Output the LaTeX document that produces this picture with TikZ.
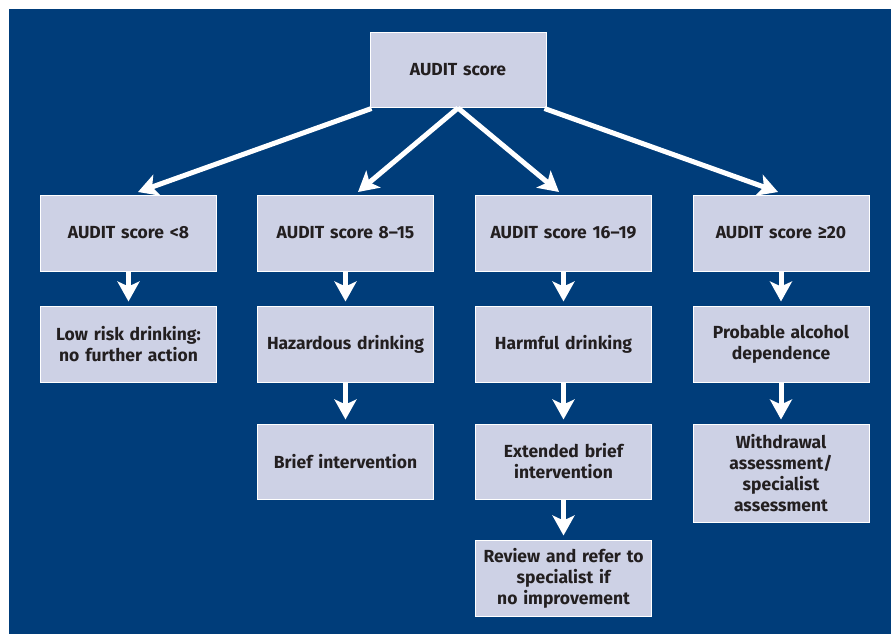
\documentclass[tikz,border=0pt]{standalone}
\usepackage{fontspec}
\setmainfont{Fira Sans}
\usetikzlibrary{arrows.meta}
\definecolor{bgblue}{RGB}{0,61,122}
\definecolor{boxfill}{RGB}{205,209,229}
\definecolor{txt}{RGB}{35,31,32}
\tikzset{
  box/.style={draw=white, line width=1pt, fill=boxfill, text=txt, font=\bfseries\fontsize{17.5}{21}\selectfont,
    minimum width=175pt, minimum height=76pt, align=center, inner sep=2pt, text width=172pt},
  arr/.style={draw=white, line width=5pt, -{Stealth[length=20pt, width=22pt, inset=5pt]}},
  varr/.style={arr, shorten >=4pt}
}
\begin{document}
\begin{tikzpicture}[x=1pt, y=-1pt]
\useasboundingbox (0,0) rectangle (891,634);
\fill[bgblue] (9,9) rectangle (891,634);
\node[box, minimum width=174pt, minimum height=74pt] (top) at (458,70) {AUDIT score};
\node[box] (a1) at (128.5,233) {AUDIT score <8};
\node[box] (b1) at (345.5,233) {AUDIT score 8–15};
\node[box] (c1) at (563.5,233) {AUDIT score 16–19};
\node[box] (d1) at (781,233) {AUDIT score ≥20};
\node[box] (a2) at (128.5,344) {Low risk drinking:\\no further action};
\node[box] (b2) at (345.5,344) {Hazardous drinking};
\node[box] (c2) at (563.5,344) {Harmful drinking};
\node[box] (d2) at (781,344) {Probable alcohol\\dependence};
\node[box, minimum height=75pt] (b3) at (345.5,461.5) {Brief intervention};
\node[box, minimum height=75pt] (c3) at (563.5,461.5) {Extended brief\\intervention};
\node[box, minimum height=98pt] (d3) at (781,473) {Withdrawal\\assessment/\\specialist\\assessment};
\node[box] (c4) at (563.5,578) {Review and refer to\\specialist if\\no improvement};
\coordinate (ta) at (138,192);
\coordinate (tb) at (358,192);
\coordinate (tc) at (559,192);
\coordinate (td) at (778,192);
\coordinate (s) at (458,108);
\draw[arr] ([shift={(2pt,-1pt)}]top.south west) -- (ta);
\draw[arr] (s) -- (tb);
\draw[arr] (s) -- (tc);
\draw[arr] ([shift={(-2pt,-1pt)}]top.south east) -- (td);
\draw[varr] (a1) -- (a2);
\draw[varr] (b1) -- (b2);
\draw[varr] (c1) -- (c2);
\draw[varr] (d1) -- (d2);
\draw[varr] (b2) -- (b3);
\draw[varr] (c2) -- (c3);
\draw[varr] (d2) -- (d3);
\draw[varr] (c3) -- (c4);
\end{tikzpicture}
\end{document}
